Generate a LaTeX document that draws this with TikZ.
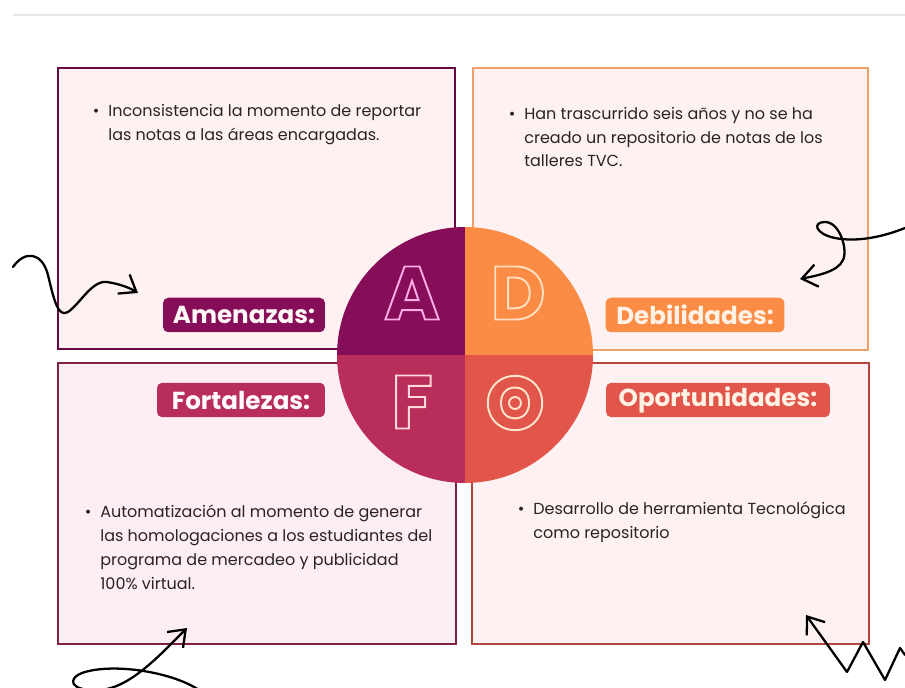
\documentclass[tikz,border=0pt]{standalone}
\usepackage{fontspec}
\setmainfont{Poppins}
\usetikzlibrary{positioning,fit,arrows.meta}
\definecolor{amenpurple}{RGB}{134,13,88}
\definecolor{debilorange}{RGB}{250,140,70}
\definecolor{fortred}{RGB}{185,45,90}
\definecolor{oportcoral}{RGB}{225,85,75}
\definecolor{panelbg}{RGB}{253,242,241}
\definecolor{fortbg}{RGB}{252,238,241}
\definecolor{textgray}{RGB}{40,36,38}
\definecolor{linegray}{RGB}{232,232,232}
\newcommand\hollow[2]{{\color{#1}\special{pdf:literal 1 Tr 1.1 w}#2\special{pdf:literal 0 Tr}}}

\begin{document}
\begin{tikzpicture}[
        x=0.02cm, y=-0.02cm,
        font=\fontsize{9.1}{13.6}\selectfont,
        panel/.style={rectangle, draw=#1, line width=1pt, fill=panelbg, inner sep=0pt},
        tag/.style={rectangle, rounded corners=3pt, fill=#1, inner sep=0pt, minimum height=0.69cm, font=\bfseries\fontsize{14}{16}\selectfont},
        item/.style={anchor=west, align=left, inner sep=0pt, text=textgray},
        letter/.style={font=\bfseries\fontsize{43}{43}\selectfont, inner sep=0pt},
        squiggle/.style={-{Straight Barb[length=0.3cm,width=0.45cm]}, line width=1.3pt, line cap=round, line join=round}
    ]
        \useasboundingbox (0,0) rectangle (905,688);
        \draw[linegray, line width=1.2pt] (13,15) -- (905,15);

        \node[panel=amenpurple!75!black, fit={(58,68) (455,349)}] (amen) {};
        \node[panel=debilorange!70!brown!80, fit={(473,68) (868,350)}] (debil) {};
        \node[panel=fortred!70!black, fill=fortbg, fit={(58,363) (456,644)}] (fort) {};
        \node[panel=oportcoral!80!black, fit={(472,363) (869,644)}] (oport) {};

        \node[tag=amenpurple, minimum width=3.24cm, text=pink!15] (amentag) at (244,315) {Amenazas:};
        \node[tag=debilorange, minimum width=3.58cm, text=orange!10] (debiltag) at (695,315) {Debilidades:};
        \node[tag=fortred, minimum width=3.36cm, text=pink!10] (forttag) at (241,400) {Fortalezas:};
        \node[tag=oportcoral, minimum width=4.48cm, text=orange!10] (oporttag) at (718,400) {Oportunidades:};

        \node[item] (amentxt) at (108,125) {\llap{\textbullet\hspace{5pt}}Inconsistencia la momento de reportar\\las notas a las áreas encargadas.};
        \node[item] (debiltxt) at (524,137) {\llap{\textbullet\hspace{5pt}}Han trascurrido seis años y no se ha\\creado un repositorio de notas de los\\talleres TVC.};
        \node[item] (forttxt) at (100,547) {\llap{\textbullet\hspace{5pt}}Automatización al momento de generar\\las homologaciones a los estudiantes del\\programa de mercadeo y publicidad\\100\% virtual.};
        \node[item] (oporttxt) at (533,522) {\llap{\textbullet\hspace{5pt}}Desarrollo de herramienta Tecnológica\\como repositorio};

        \begin{scope}
            \clip (465,355) circle [radius=2.56cm];
            \fill[amenpurple] (330,220) rectangle (465,355);
            \fill[debilorange] (465,220) rectangle (600,355);
            \fill[fortred] (330,355) rectangle (465,490);
            \fill[oportcoral] (465,355) rectangle (600,490);
        \end{scope}

        \node[letter] (letA) at (412,293) {\hollow{pink!60!magenta!60}{A}};
        \node[letter] (letD) at (518,293) {\hollow{orange!25}{D}};
        \node[letter] (letF) at (412,402) {\hollow{pink!60}{F}};
        \node[letter] (letO) at (515,403) {\hollow{orange!20}{O}};
        \draw[orange!20, line width=1.1pt] (letO.center) circle [radius=0.12cm];

        \coordinate (s1a) at (13,267);
        \coordinate (s1b) at (138,293);
        \draw[squiggle] (s1a) .. controls (25,250) and (42,252) .. (48,275) .. controls (54,300) and (58,318) .. (68,312) .. controls (80,304) and (92,280) .. (107,282) .. controls (120,284) and (130,288) .. (s1b);
        \coordinate (s2a) at (905,228);
        \coordinate (s2b) at (800,279);
        \draw[squiggle] (s2a) .. controls (880,238) and (855,242) .. (835,238) .. controls (815,234) and (812,222) .. (825,222) .. controls (840,222) and (848,250) .. (843,260) .. controls (838,272) and (815,276) .. (s2b);
        \coordinate (s3a) at (205,695);
        \coordinate (s3b) at (187,628);
        \draw[squiggle] (s3a) .. controls (185,675) and (120,662) .. (85,672) .. controls (65,678) and (70,692) .. (100,690) .. controls (130,688) and (160,655) .. (s3b);
        \coordinate (s4a) at (905,655);
        \coordinate (s4b) at (806,615);
        \draw[squiggle] (s4a) -- (900,648) -- (885,680) -- (863,642) -- (847,672) -- (s4b);
    \end{tikzpicture}
\end{document}
